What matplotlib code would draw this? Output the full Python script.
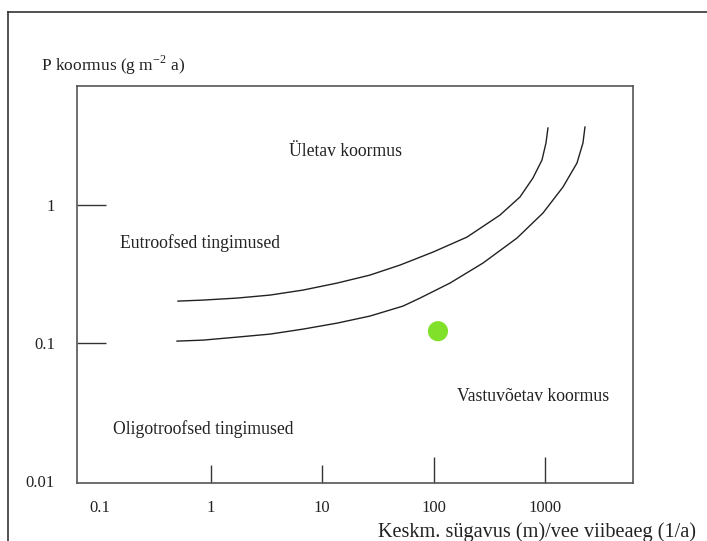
import matplotlib
matplotlib.use("Agg")
import matplotlib.pyplot as plt
from matplotlib.lines import Line2D

plt.rcParams["font.family"] = ["Liberation Serif", "DejaVu Serif"]

# ---- data ------------------------------------------------------------------

# upper boundary ("dangerous" loading)
upper_x = [0.505, 0.847, 1.71, 3.39, 6.71, 13.6, 26.8, 49.9, 98.8, 199.6,
           395, 597, 781, 942, 1023, 1066]
upper_y = [0.2015, 0.2049, 0.2119, 0.2228, 0.2422, 0.2722, 0.311, 0.3675,
           0.4564, 0.586, 0.846, 1.143, 1.569, 2.119, 2.814, 3.614]

# lower boundary ("permissible" loading)
lower_x = [0.495, 0.847, 1.71, 3.39, 6.71, 13.6, 26.8, 53.1, 75.5, 140.4,
           277.8, 561.6, 961, 1454, 1943, 2199, 2293]
lower_y = [0.1034, 0.1051, 0.1105, 0.1162, 0.1263, 0.1396, 0.157, 0.1854,
           0.2119, 0.2722, 0.380, 0.5766, 0.875, 1.350, 2.015, 2.814, 3.674]

# the lake
lake_x = [109.5]
lake_y = [0.122]

x_ticks = [0.1, 1, 10, 100, 1000]
x_tick_labels = ["0.1", "1", "10", "100", "1000"]
y_ticks = [0.01, 0.1, 1]
y_tick_labels = ["0.01", "0.1", "1"]

TEXT = "#222222"
FS = 12.7

fig = plt.figure(figsize=(7.07, 5.41), dpi=100)
ax = fig.add_axes([0.1089, 0.1072, 0.7864, 0.7338])

ax.plot(upper_x, upper_y, color="#222222", lw=1.0)
ax.plot(lower_x, lower_y, color="#222222", lw=1.0)
ax.scatter(lake_x, lake_y, s=210, color="#80E02A", edgecolors="none", zorder=3)

ax.set_xscale("log")
ax.set_yscale("log")
ax.set_xlim(0.0625, 6190)
ax.set_ylim(0.0097, 7.28)

ax.set_xticks(x_ticks)
ax.set_xticklabels(x_tick_labels)
ax.set_yticks(y_ticks)
ax.set_yticklabels(y_tick_labels)
ax.minorticks_off()
ax.tick_params(axis="x", direction="in", length=13, width=1.0, color="#333333",
               pad=12, labelsize=12, labelcolor=TEXT)
ax.tick_params(axis="y", direction="in", length=21, width=1.0, color="#333333",
               pad=16, labelsize=12, labelcolor=TEXT)
# hand-drawn look: no mark at the 0.1 / 0.01 corner, longer marks at 100 and 1000
xt = ax.xaxis.get_major_ticks()
xt[0].tick1line.set_visible(False)
xt[3].tick1line.set_markersize(19)
xt[4].tick1line.set_markersize(19)
ax.yaxis.get_major_ticks()[0].tick1line.set_visible(False)

for s in ax.spines.values():
    s.set_color("#555555")
    s.set_linewidth(1.2)

ax.text(16.2, 2.44, "Ületav koormus", fontsize=FS, color=TEXT, ha="center", va="center")
ax.text(0.152, 0.53, "Eutroofsed tingimused", fontsize=FS, color=TEXT, va="center")
ax.text(162, 0.0413, "Vastuvõetav koormus", fontsize=FS, color=TEXT, va="center")
ax.text(0.132, 0.0240, "Oligotroofsed tingimused", fontsize=FS, color=TEXT, va="center")

fig.text(41 / 707, 1 - 65 / 541, r"P koormus (g m$^{\mathregular{-2}}$ a)",
         fontsize=12.5, color=TEXT, va="center")
fig.text(696 / 707, 1 - 532 / 541, "Keskm. sügavus (m)/vee viibeaeg (1/a)",
         fontsize=14.6, color=TEXT, ha="right", va="center")

# page frame cut by the screenshot
fig.add_artist(Line2D([8 / 707, 8 / 707], [0, 1 - 12 / 541], color="#333333", lw=1.2))
fig.add_artist(Line2D([8 / 707, 1], [1 - 12 / 541, 1 - 12 / 541], color="#333333", lw=1.2))

fig.savefig("out.png", dpi=100)
